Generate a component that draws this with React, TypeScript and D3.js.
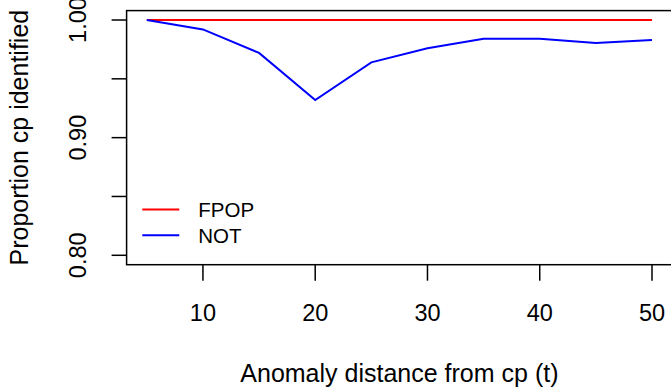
import React from "react";
import * as d3 from "d3";

const distances = [5, 10, 15, 20, 25, 30, 35, 40, 45, 50];
const fpop = [1, 1, 1, 1, 1, 1, 1, 1, 1, 1];
const notVals = [1.0, 0.992, 0.972, 0.932, 0.964, 0.976, 0.984, 0.984, 0.9805, 0.983];
const xTicks = [10, 20, 30, 40, 50];
const yTicks = [0.8, 0.85, 0.9, 0.95, 1.0];
const yTickLabels = ["0.80", "", "0.90", "", "1.00"];
const seriesNames = ["FPOP", "NOT"];
const seriesColors = ["#ff0000", "#0000ff"];

const W = 671;
const H = 387;
const FONT = "'Liberation Sans', Arial, sans-serif";

export default function App() {
  const x = d3.scaleLinear().domain([3.2, 51.8]).range([126.6, 672.2]);
  const y = d3.scaleLinear().domain([0.792, 1.008]).range([264.7, 10.6]);
  const line = d3
    .line<[number, number]>()
    .x((d) => x(d[0]))
    .y((d) => y(d[1]));
  const series = [fpop, notVals];

  return (
    <svg
      width={W}
      height={H}
      style={{ position: "fixed", left: 0, top: 0, background: "#fff" }}
      fontFamily={FONT}
    >
      <rect x={0} y={0} width={W} height={H} fill="#fff" />
      {series.map((s, i) => (
        <path
          key={seriesNames[i]}
          d={line(distances.map((d, j) => [d, s[j]] as [number, number])) || ""}
          fill="none"
          stroke={seriesColors[i]}
          strokeWidth={2}
        />
      ))}
      <rect
        x={x(3.2)}
        y={y(1.008)}
        width={x(51.8) - x(3.2)}
        height={y(0.792) - y(1.008)}
        fill="none"
        stroke="#000"
        strokeWidth={1.5}
      />
      {xTicks.map((t) => (
        <g key={t}>
          <line x1={x(t)} x2={x(t)} y1={y(0.792)} y2={y(0.792) + 16} stroke="#000" strokeWidth={1.5} />
          <text x={x(t)} y={320.5} textAnchor="middle" fontSize={23.5} fill="#000">
            {t}
          </text>
        </g>
      ))}
      {yTicks.map((t, i) => (
        <g key={t}>
          <line x1={x(3.2) - 15} x2={x(3.2)} y1={y(t)} y2={y(t)} stroke="#000" strokeWidth={1.5} />
          {yTickLabels[i] && (
            <text
              transform={`translate(86,${y(t)}) rotate(-90)`}
              textAnchor="middle"
              fontSize={23.5}
              fill="#000"
            >
              {yTickLabels[i]}
            </text>
          )}
        </g>
      ))}
      <text x={(x(3.2) + x(51.8)) / 2 - 0} y={381.5} textAnchor="middle" fontSize={25} fill="#000">
        Anomaly distance from cp (t)
      </text>
      <text
        transform={`translate(28,${(y(0.792) + y(1.008)) / 2}) rotate(-90)`}
        textAnchor="middle"
        fontSize={25}
        fill="#000"
      >
        Proportion cp identified
      </text>
      {seriesNames.map((n, i) => (
        <g key={n}>
          <line
            x1={142.3}
            x2={179.3}
            y1={209.5 + i * 25.7}
            y2={209.5 + i * 25.7}
            stroke={seriesColors[i]}
            strokeWidth={2}
          />
          <text x={198.3} y={209.5 + i * 25.7 + 7.5} fontSize={20.5} fill="#000">
            {n}
          </text>
        </g>
      ))}
    </svg>
  );
}
